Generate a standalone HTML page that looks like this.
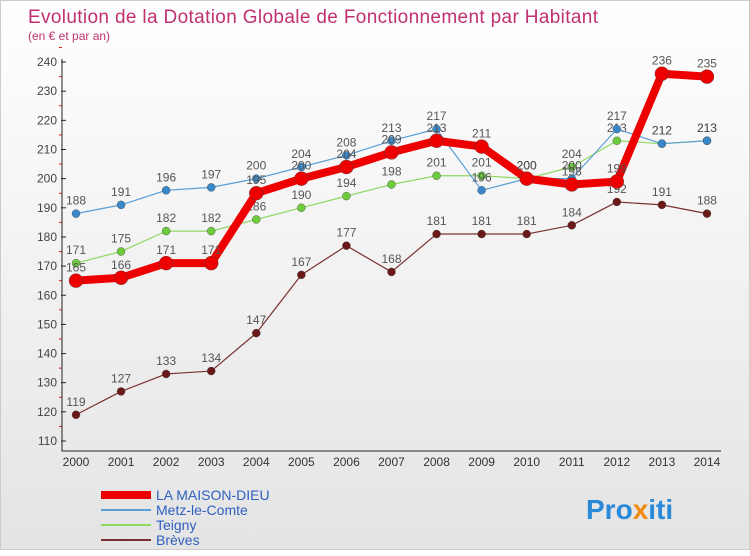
<!DOCTYPE html>
<html><head><meta charset="utf-8"><style>
body{margin:0;width:750px;height:550px;overflow:hidden;font-family:"Liberation Sans",sans-serif}
#c{position:absolute;left:0;top:0;width:750px;height:550px;background:linear-gradient(#fff,#e4e4e4);border:1px solid #ccc;box-sizing:border-box}
</style></head><body>
<div id="c">
<svg id="s" width="750" height="550" xmlns="http://www.w3.org/2000/svg">
<text x="27" y="22" font-size="19" fill="#c03070" textLength="570">Evolution de la Dotation Globale de Fonctionnement par Habitant</text>
<text x="27" y="39" font-size="12" fill="#c03070">(en € et par an)</text>
<g id="g"></g>
<text x="585" y="518" font-size="28" font-weight="bold" fill="#2a8ad8">Pro<tspan fill="#f08a10">x</tspan>iti</text>
</svg></div>
<script>
const years=[2000,2001,2002,2003,2004,2005,2006,2007,2008,2009,2010,2011,2012,2013,2014];
const yTicks=[110,120,130,140,150,160,170,180,190,200,210,220,230,240];
const maison=[165,166,171,171,195,200,204,209,213,211,200,198,199,236,235];
const metz=[188,191,196,197,200,204,208,213,217,196,200,200,217,212,213];
const teigny=[171,175,182,182,186,190,194,198,201,201,200,204,213,212,213];
const breves=[119,127,133,134,147,167,177,168,181,181,181,184,192,191,188];
const NS="http://www.w3.org/2000/svg",g=document.getElementById('g');
const X=i=>75+i*45.07, Y=v=>440-(v-110)*2.915;
function el(t,a){const e=document.createElementNS(NS,t);for(const k in a)e.setAttribute(k,a[k]);g.appendChild(e);return e;}
yTicks.forEach(v=>{
 const l=el('line',{x1:60,x2:65,y1:Y(v),y2:Y(v),stroke:'#222'});
 
 
 const m=el('line',{x1:58,x2:61,y1:Y(v+5),y2:Y(v+5),stroke:'#e02020'});
 
 
 const t=el('text',{x:56,y:Y(v)+4,'font-size':12,fill:'#444','text-anchor':'end'});t.textContent=v;
 
 
});
const ax=el('path',{d:'M61 58V450H720',stroke:'#222',fill:'none'});


years.forEach((y,i)=>{
 const t=el('text',{x:X(i),y:465,'font-size':12,fill:'#333','text-anchor':'middle'});t.textContent=y;
 
 
});
function series(d,col,w,r,dot,name){
 const p=el('polyline',{points:d.map((v,i)=>X(i)+','+Y(v)).join(' '),fill:'none',stroke:col,'stroke-width':w,'stroke-linejoin':'round'});
 
 
 d.forEach((v,i)=>{
  const c=el('circle',{cx:X(i),cy:Y(v),r:r,fill:dot,stroke:'#444','stroke-width':0.4});
  
  
  const t=el('text',{x:X(i),y:Y(v)-9,'font-size':12,fill:'#555','text-anchor':'middle'});t.textContent=v;
  
  
 });
}
series(breves,'#7a3030',1.2,4,'#6a1818','breves');
series(teigny,'#8ed860',1.2,4,'#6ccc3c','teigny');
series(metz,'#5a9ed6',1.2,4,'#3a88cc','metz');
series(maison,'#ee0000',8,7,'#ee0000','maison');
const leg=[['LA MAISON-DIEU','#ee0000',8],['Metz-le-Comte','#5a9ed6',2],['Teigny','#8ed860',2],['Brèves','#7a3030',2]];
leg.forEach((l,i)=>{
 const y=494+i*15;
 const ln=el('line',{x1:100,x2:150,y1:y,y2:y,stroke:l[1],'stroke-width':l[2]});
 
 
 const t=el('text',{x:155,y:y+5,'font-size':14,fill:'#3060c0'});t.textContent=l[0];
 
 
});
</script>
</body></html>
